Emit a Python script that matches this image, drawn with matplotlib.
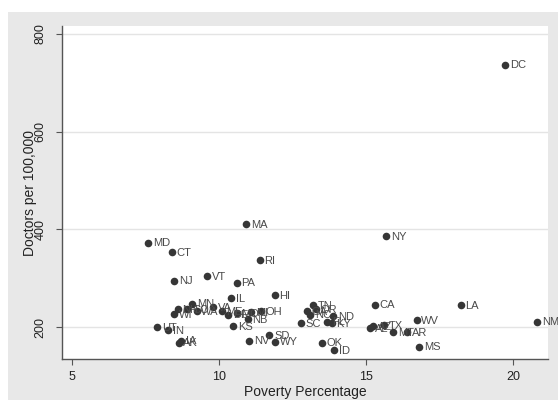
import numpy as np
import matplotlib
matplotlib.use('Agg')
from matplotlib import pyplot as plt
from matplotlib.patches import Rectangle

plt.rcParams.update({
    "font.family": ["Liberation Sans", "DejaVu Sans"],
    "font.size": 8,
})

states = ["DC", "MA", "NY", "MD", "CT", "RI", "NJ", "VT", "PA", "HI",
          "IL", "CA", "LA", "WV", "NM", "MS", "AL", "AZ", "TX", "MT",
          "AR", "SC", "TN", "GA", "NC", "OR", "ND", "FL", "KY", "OK",
          "ID", "UT", "IN", "IA", "AK", "KS", "NV", "WY", "SD", "WI",
          "NH", "CO", "MN", "WA", "VA", "ME", "DE", "MO", "NB", "MI", "OH"]
poverty = [19.73, 10.92, 15.68, 7.59, 8.39, 11.39, 8.48, 9.60, 10.60, 11.89,
           10.41, 15.31, 18.22, 16.72, 20.83, 16.81, 15.14, 15.24, 15.61, 15.92,
           16.39, 12.79, 13.21, 12.98, 13.10, 13.30, 13.88, 13.68, 13.83, 13.49,
           13.92, 7.89, 8.27, 8.70, 8.63, 10.49, 11.03, 11.90, 11.71, 8.47,
           8.60, 8.92, 9.09, 9.24, 9.81, 10.09, 10.32, 10.60, 10.97, 11.10, 11.42]
doctors = [737, 411, 386, 373, 353, 337, 295, 304, 291, 265,
           259, 246, 245, 214, 211, 160, 198, 202, 204, 190,
           190, 208, 245, 233, 225, 236, 222, 211, 208, 168,
           153, 200, 194, 172, 168, 202, 172, 170, 184, 226,
           236, 236, 248, 233, 241, 233, 225, 228, 216, 230, 233]

fig = plt.figure(figsize=(5.58, 4.0), dpi=100)
fig.patch.set_facecolor('white')
bg = Rectangle((8/558, 0), 1 - 8/558, 388/400, transform=fig.transFigure,
               facecolor='#e8e8e8', edgecolor='none', zorder=-10)
fig.add_artist(bg)

ax = fig.add_axes([62/558, 41/400, 486/558, 333/400])
ax.set_facecolor('white')
ax.scatter(poverty, doctors, s=30, color='#363636', zorder=3, linewidths=0)
for name, x, y in zip(states, poverty, doctors):
    ax.annotate(name, (x, y), xytext=(3.4, -0.5), textcoords='offset points',
                ha='left', va='center', fontsize=8, color='#4a4a4a', zorder=4)

ax.set_xlim(4.66, 21.19)
ax.set_ylim(134.5, 816.4)
ax.set_xticks([5, 10, 15, 20])
ax.set_yticks([200, 400, 600, 800])
ax.set_yticklabels(['200', '400', '600', '800'], rotation=90, va='center')
ax.grid(axis='y', color='#e4e4e4', linewidth=1)
ax.set_axisbelow(True)

for side in ['top', 'right']:
    ax.spines[side].set_visible(False)
for side in ['left', 'bottom']:
    ax.spines[side].set_color('#555555')
    ax.spines[side].set_linewidth(1)
ax.tick_params(direction='out', length=4.3, width=0.8, color='#555555',
               labelsize=9, labelcolor='#222222')
ax.tick_params(axis='x', pad=4)
ax.tick_params(axis='y', pad=7)

ax.set_xlabel('Poverty Percentage', fontsize=10, color='#222222')
ax.set_ylabel('Doctors per 100,000', fontsize=10, color='#222222')
ax.xaxis.set_label_coords(0.5, -0.077)
ax.yaxis.set_label_coords(-0.051, 0.5)

fig.savefig('out.png', dpi=100)
